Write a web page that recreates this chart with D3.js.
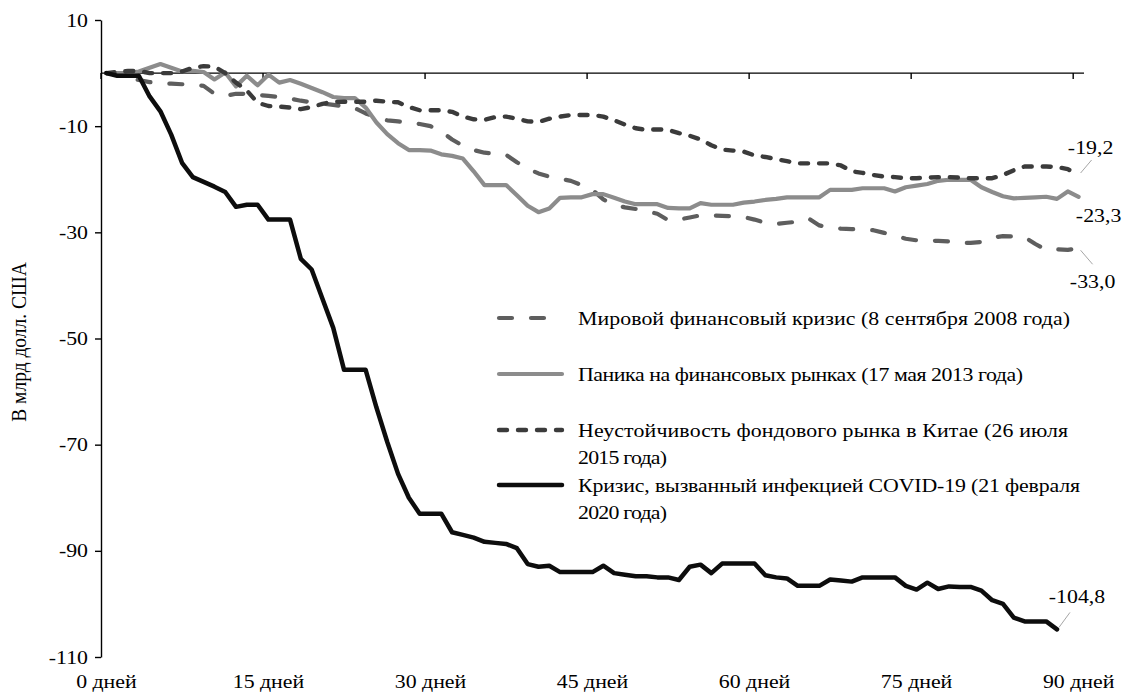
<!DOCTYPE html>
<html><head><meta charset="utf-8">
<script src="https://cdn.jsdelivr.net/npm/d3@7"></script>
<style>
html,body{margin:0;padding:0;background:#fff;}
svg{display:block;}
svg text{font-family:"Liberation Serif","Times New Roman",Tinos,"DejaVu Serif",serif;}
</style></head>
<body>
<svg id="chart" width="1124" height="693"></svg>
<script>
// ---- data ----
const days = d3.range(0, 91);
const xTickDays = [0, 15, 30, 45, 60, 75, 90];
const xTickLabels = ["0 дней", "15 дней", "30 дней", "45 дней", "60 дней", "75 дней", "90 дней"];
const yTicks = [10, -10, -30, -50, -70, -90, -110];
const yTitle = "В млрд долл. США";
const legendLines = [
  ["Мировой финансовый кризис (8 сентября 2008 года)"],
  ["Паника на финансовых рынках (17 мая 2013 года)"],
  ["Неустойчивость фондового рынка в Китае (26 июля", "2015 года)"],
  ["Кризис, вызванный инфекцией COVID-19 (21 февраля", "2020 года)"]
];
const gfc2008 = [0,-0.3,-0.8,-1.3,-1.7,-1.9,-2.0,-2.1,-2.2,-2.4,-3.9,-4.3,-3.9,-3.9,-4.1,-4.3,-4.5,-4.8,-5.2,-5.5,-5.7,-6.0,-6.3,-6.6,-7.6,-8.4,-8.9,-9.1,-9.3,-9.6,-10.0,
  -11.0,-12.5,-13.7,-14.5,-15.0,-15.2,-15.4,-16.8,-18.0,-18.9,-19.5,-19.9,-20.3,-21.1,-22.0,-23.8,-24.8,-25.3,-25.6,-26.0,-26.5,-27.7,-27.6,-27.2,-26.8,-26.8,-26.9,-27.0,-27.1,-27.6,
  -28.2,-28.4,-28.2,-28.0,-27.4,-28.7,-29.1,-29.3,-29.4,-29.5,-29.6,-30.1,-30.6,-31.2,-31.5,-31.6,-31.6,-31.7,-32.0,-32.0,-31.8,-31.0,-30.7,-30.8,-30.9,-32.2,-33.3,-33.2,-33.3,-33.0];
const taper2013 = [0,0,0,0.3,1.0,1.7,1.0,0.3,0.4,0.2,-1.2,0.1,-2.5,-0.5,-2.3,-0.3,-1.8,-1.3,-2.0,-2.8,-3.6,-4.5,-4.7,-4.7,-6.5,-9.3,-11.5,-13.2,-14.5,-14.5,-14.6,
  -15.3,-15.6,-16.1,-18.5,-21.1,-21.1,-21.1,-23.0,-25.0,-26.2,-25.5,-23.5,-23.4,-23.4,-22.8,-22.8,-23.5,-24.2,-24.7,-24.7,-24.7,-25.4,-25.5,-25.5,-24.5,-24.8,-24.8,-24.8,-24.4,-24.2,
  -23.9,-23.7,-23.4,-23.4,-23.4,-23.4,-22.0,-22.0,-22.0,-21.7,-21.7,-21.7,-22.3,-21.5,-21.2,-20.9,-20.3,-20.1,-20.1,-20.1,-21.5,-22.4,-23.2,-23.6,-23.5,-23.4,-23.3,-23.7,-22.3,-23.3];
const china2015 = [0,0.2,0.4,0.4,0,0,0,0.3,1.0,1.3,1.2,0,-1.8,-3.3,-5.6,-6.2,-6.3,-6.5,-6.8,-6.4,-5.8,-5.4,-5.4,-5.4,-5.4,-5.2,-5.4,-5.5,-6.4,-7.0,-7.0,
  -7.0,-7.3,-8.2,-8.7,-8.8,-8.3,-8.2,-8.6,-9.1,-9.2,-8.6,-8.2,-7.9,-7.9,-7.9,-8.2,-8.9,-9.7,-10.4,-10.7,-10.6,-10.7,-11.3,-11.8,-12.5,-13.6,-14.4,-14.6,-14.8,-15.5,
  -15.8,-16.2,-16.6,-17.0,-17.0,-17.0,-17.0,-17.4,-18.5,-18.8,-19.2,-19.5,-19.6,-19.8,-19.8,-19.7,-19.6,-19.6,-19.7,-19.8,-19.8,-19.8,-19.2,-18.3,-17.6,-17.6,-17.6,-17.7,-18.1,-19.2];
const covid2020 = [0,-0.5,-0.5,-0.5,-4.4,-7.2,-11.6,-16.9,-19.6,-20.5,-21.4,-22.4,-25.2,-24.8,-24.8,-27.6,-27.6,-27.6,-35.0,-37.0,-42.5,-48.0,-55.9,-55.9,-55.9,-63.0,-69.5,-75.5,-80.0,-83.0,-83.0,
  -83.0,-86.5,-87.0,-87.5,-88.3,-88.5,-88.7,-89.5,-92.5,-93.0,-92.8,-94.0,-94.0,-94.0,-94.0,-92.8,-94.2,-94.5,-94.8,-94.8,-95.0,-95.0,-95.5,-93.0,-92.6,-94.2,-92.4,-92.4,-92.4,-92.4,
  -94.6,-95.0,-95.2,-96.6,-96.6,-96.6,-95.4,-95.6,-95.8,-95.0,-95.0,-95.0,-95.0,-96.6,-97.3,-96.0,-97.2,-96.7,-96.8,-96.8,-97.5,-99.3,-100.0,-102.6,-103.3,-103.3,-103.3,-104.8];
const endLabels = ["-33,0", "-23,3", "-19,2", "-104,8"];

// ---- layout ----
const svg = d3.select("#chart");
const plotLeft = 101, plotRight = 1084, plotTop = 20, plotBottom = 657;
const FS = 19.5, SX = 1.12;
const x = d3.scalePoint().domain(days).range([plotLeft, plotRight]).padding(0.5);
const step = x.step();
const y = d3.scaleLinear().domain([-110, 10]).range([plotBottom, plotTop]);

// stretched text helper (reference glyphs are wider than normal Times)
function addText(px, py, str, anchor, fs) {
  const g = svg.append("g").attr("transform", `translate(${px},${py}) scale(${SX},1)`);
  return g.append("text").attr("x", 0).attr("y", 0).attr("text-anchor", anchor || "start")
    .attr("font-size", fs || FS).attr("fill", "#000").text(str);
}

const styles = [
  {color: "#5e5e5e", width: 4.2, dash: "13,19"},
  {color: "#8c8c8c", width: 4.2, dash: null},
  {color: "#3b3b3b", width: 4.4, dash: "8,11"},
  {color: "#0d0d0d", width: 4.5, dash: null}
];
const seriesData = [gfc2008, taper2013, china2015, covid2020];

// y axis (line and ticks from d3 axis, labels stretched)
const yAxis = d3.axisLeft(y).tickValues(yTicks).tickSize(6).tickSizeOuter(0).tickFormat("");
const gy = svg.append("g").attr("transform", `translate(${plotLeft},0)`).call(yAxis);
gy.select(".domain").attr("stroke", "#000").attr("stroke-width", 1.4);
gy.selectAll(".tick line").attr("stroke", "#000").attr("stroke-width", 1.4);
yTicks.forEach(v => addText(88, y(v) + 6.5, String(v), "end"));

// x axis at zero
const y0 = y(0);
svg.append("line").attr("x1", plotLeft).attr("x2", plotRight).attr("y1", y0).attr("y2", y0)
  .attr("stroke", "#000").attr("stroke-width", 1.4);
svg.selectAll(".xtick").data(xTickDays).enter().append("line")
  .attr("x1", d => x(d) - step / 2).attr("x2", d => x(d) - step / 2)
  .attr("y1", y0).attr("y2", y0 + 6).attr("stroke", "#000").attr("stroke-width", 1.4);
xTickDays.forEach((d, i) => addText(Math.min(x(d), 1082), 688, xTickLabels[i], "middle"));

// y title
svg.append("g").attr("transform", `translate(26,342) scale(${SX},1) rotate(-90)`)
  .append("text").attr("text-anchor", "middle").attr("font-size", FS).attr("fill", "#000")
  .text(yTitle);

// lines
const line = d3.line().x((d, i) => x(i)).y(d => y(d));
seriesData.forEach((s, k) => {
  svg.append("path").datum(s).attr("d", line).attr("fill", "none")
    .attr("stroke", styles[k].color).attr("stroke-width", styles[k].width)
    .attr("stroke-linecap", "round").attr("stroke-linejoin", "round")
    .attr("stroke-dasharray", styles[k].dash);
});

// end labels with leader lines
const lastIdx = s => s.length - 1;
const labelSpecs = [
  {k: 0, dx: 14, dy: 40, lx: 14, ly: 16},
  {k: 1, dx: 20, dy: 25, lx: null},
  {k: 2, dx: 12, dy: -21, lx: 13, ly: -15},
  {k: 3, dx: 20, dy: -26, lx: 13, ly: -17}
];
labelSpecs.forEach(sp => {
  const s = seriesData[sp.k];
  const px = x(lastIdx(s)), py = y(s[lastIdx(s)]);
  if (sp.lx !== null) {
    svg.append("line").attr("x1", px + 2).attr("y1", py + Math.sign(sp.ly) * 2)
      .attr("x2", px + sp.lx).attr("y2", py + sp.ly)
      .attr("stroke", "#a6a6a6").attr("stroke-width", 1);
  }
  addText(px + sp.dx, py + sp.dy, endLabels[sp.k], "middle");
});

// legend (line widths matched to the reference text block)
const legY = [318, 374, 430, 485];
const legWidths = [[492], [445], [490, 89], [502, 89]];
legendLines.forEach((lines, k) => {
  svg.append("line").attr("x1", 499).attr("x2", 562).attr("y1", legY[k]).attr("y2", legY[k])
    .attr("stroke", styles[k].color).attr("stroke-width", styles[k].width)
    .attr("stroke-linecap", "round").attr("stroke-dasharray", styles[k].dash);
  lines.forEach((ln, j) => {
    addText(578, legY[k] + 6.5 + j * 27, ln, "start")
      .attr("textLength", legWidths[k][j] / SX).attr("lengthAdjust", "spacing");
  });
});
</script>
</body></html>
